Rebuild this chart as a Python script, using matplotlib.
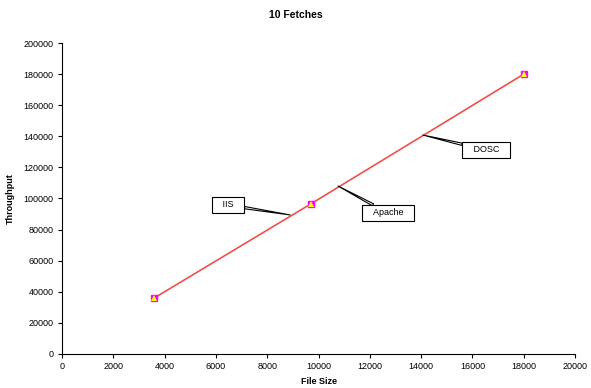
import matplotlib
matplotlib.use("Agg")
import matplotlib.pyplot as plt

plt.rcParams["font.family"] = ["Liberation Sans", "DejaVu Sans"]

# Throughput vs file size, 10 fetches per server
file_size = [3600, 9700, 18000]
iis = [36000, 96500, 180000]
apache = [36000, 96500, 180000]
dosc = [36000, 96500, 180000]

fig = plt.figure(figsize=(5.91, 3.88), dpi=100)
ax = fig.add_axes([0.105, 0.088, 0.868, 0.801])

ax.plot(file_size, iis, color="#FF00FF", marker="s", markersize=4,
        linestyle="none", zorder=3)
ax.plot(file_size, apache, color="#FFFF00", marker="^", markersize=4,
        markeredgewidth=0, linestyle="none", zorder=4)
ax.plot(file_size, dosc, color="#F0504A", linewidth=1.2, zorder=2)

ax.set_xlim(0, 20000)
ax.set_ylim(0, 200000)
ax.set_xticks(range(0, 20001, 2000))
ax.set_yticks(range(0, 200001, 20000))
ax.tick_params(direction="out", length=3, width=0.8, labelsize=6.5, pad=3)
for side in ("top", "right"):
    ax.spines[side].set_visible(False)
for side in ("left", "bottom"):
    ax.spines[side].set_linewidth(0.8)

ax.set_xlabel("File Size", fontsize=6.5, fontweight="bold", labelpad=4)
ax.set_ylabel("Throughput", fontsize=6.5, fontweight="bold", labelpad=6)
fig.suptitle("10 Fetches", fontsize=7.5, fontweight="bold", y=0.975)

# Callout labels for each server
callouts = [
    ("IIS", (8889, 89400), (6470, 95800)),
    ("Apache", (10760, 108000), (12710, 90700)),
    ("DOSC", (14074, 140800), (16530, 131200)),
]
for name, tip, box in callouts:
    ax.annotate("   " + name + "   ", xy=tip, xytext=box, fontsize=6.5,
                ha="center", va="center",
                bbox=dict(boxstyle="square,pad=0.35", fc="white", ec="black", lw=0.8),
                arrowprops=dict(arrowstyle="wedge,tail_width=0.25", fc="white",
                                ec="black", lw=0.8, shrinkA=0, shrinkB=0),
                zorder=5)

fig.savefig("out.png", dpi=100)
